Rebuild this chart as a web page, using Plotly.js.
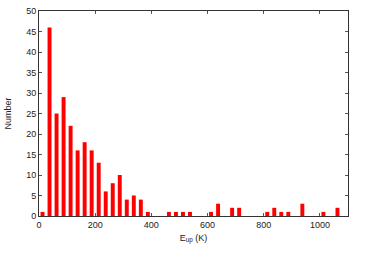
<!DOCTYPE html>
<html>
<head>
<meta charset="utf-8">
<script src="https://cdn.plot.ly/plotly-3.0.1.min.js"></script>
<style>html,body{margin:0;padding:0;background:#fff;}#chart{width:365px;height:255px;}</style>
</head>
<body>
<div id="chart"></div>
<script>
// Histogram of upper-level energies, bin width 25 K
const binCenters = [12.5,37.5,62.5,87.5,112.5,137.5,162.5,187.5,212.5,237.5,262.5,287.5,312.5,337.5,362.5,387.5,412.5,437.5,462.5,487.5,512.5,537.5,562.5,587.5,612.5,637.5,662.5,687.5,712.5,737.5,762.5,787.5,812.5,837.5,862.5,887.5,912.5,937.5,962.5,987.5,1012.5,1037.5,1062.5];
const counts = [1,46,25,29,22,16,18,16,13,6,8,10,4,5,4,1,0,0,1,1,1,1,0,0,1,3,0,2,2,0,0,0,1,2,1,1,0,3,0,0,1,0,2];
const xTicks = [0,200,400,600,800,1000];
const yTicks = [0,5,10,15,20,25,30,35,40,45,50];

const axisCommon = {
  showline: true, linecolor: '#333', linewidth: 1, mirror: 'ticks',
  ticks: 'inside', ticklen: 3, tickcolor: '#555', tickwidth: 1,
  showgrid: false, zeroline: false,
  tickfont: {family: 'Liberation Sans, Arial, sans-serif', size: 9, color: '#222'}
};

Plotly.newPlot('chart', [{
  type: 'bar', x: binCenters, y: counts, width: 14,
  marker: {color: '#ff0000', line: {width: 0}}
}], {
  width: 365, height: 255,
  margin: {l: 39, r: 17, t: 11, b: 39},
  paper_bgcolor: '#fff', plot_bgcolor: '#fff',
  showlegend: false,
  xaxis: Object.assign({}, axisCommon, {
    range: [0, 1100], tickvals: xTicks, ticktext: xTicks.map(String),
    title: {text: 'E<sub>up</sub> (K)', standoff: 5,
      font: {family: 'Liberation Sans, Arial, sans-serif', size: 9, color: '#222'}}
  }),
  yaxis: Object.assign({}, axisCommon, {
    range: [0, 50], tickvals: yTicks, ticktext: yTicks.map(String),
    title: {text: 'Number', standoff: 13,
      font: {family: 'Liberation Sans, Arial, sans-serif', size: 9, color: '#222'}}
  })
}, {displayModeBar: false, staticPlot: true});
</script>
</body>
</html>
